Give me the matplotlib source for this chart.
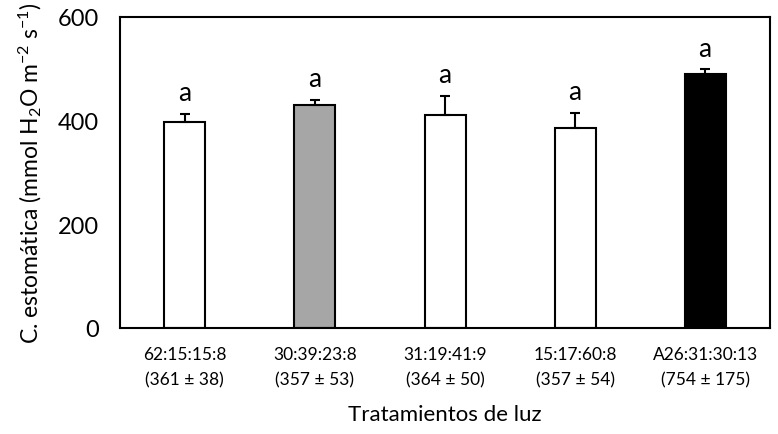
import matplotlib.pyplot as plt
import numpy as np

# datos
tratamientos = ['62:15:15:8\n(361 ± 38)', '30:39:23:8\n(357 ± 53)', '31:19:41:9\n(364 ± 50)',
                '15:17:60:8\n(357 ± 54)', 'A26:31:30:13\n(754 ± 175)']
conductancia = [397, 430, 410, 386, 490]
error = [16, 10, 38, 29, 9]
letras = ['a', 'a', 'a', 'a', 'a']
colores = ['white', '#a6a6a6', 'white', 'white', 'black']

plt.rcParams['font.family'] = ['Lato', 'DejaVu Sans']
plt.rcParams['mathtext.default'] = 'regular'

fig, ax = plt.subplots(figsize=(7.78, 4.35), dpi=100)
fig.subplots_adjust(left=0.154, right=0.99, top=0.959, bottom=0.244)

x = np.arange(len(conductancia))
ax.bar(x, conductancia, width=0.315, color=colores, edgecolor='black', linewidth=1.5, zorder=2)
ax.errorbar(x, conductancia, yerr=[np.zeros(len(error)), error], fmt='none',
            ecolor='black', elinewidth=1.5, capsize=3.5, capthick=1.5, zorder=3)

# letras de significancia
for i, (v, e) in enumerate(zip(conductancia, error)):
    ax.text(i, v + e + 16, letras[i], ha='center', va='bottom', fontsize=19)

ax.set_xlim(-0.5, 4.5)
ax.set_ylim(0, 600)
ax.set_yticks([0, 200, 400, 600])
ax.set_xticks(x)
ax.set_xticklabels(tratamientos, fontsize=12.5, linespacing=1.7)
ax.tick_params(axis='both', length=0)
ax.tick_params(axis='y', labelsize=17, pad=15)
ax.tick_params(axis='x', pad=13)
for s in ax.spines.values():
    s.set_linewidth(1.5)

ax.set_ylabel('C. estomática (mmol H$_2$O m$^{-2}$ s$^{-1}$)', fontsize=16.5, labelpad=10)
ax.set_xlabel('Tratamientos de luz', fontsize=16, labelpad=12)

fig.savefig('out.png')
plt.close(fig)
